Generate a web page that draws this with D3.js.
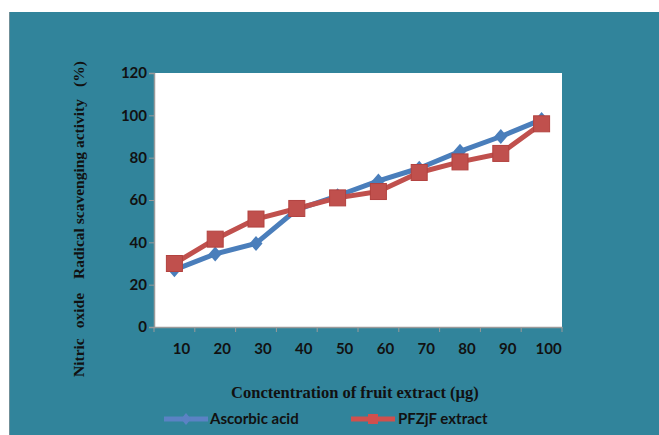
<!DOCTYPE html>
<html><head><meta charset="utf-8">
<script src="https://cdn.jsdelivr.net/npm/d3@7"></script>
<style>body{margin:0;background:#fff}svg{display:block}</style>
</head><body>
<svg id="c" width="659" height="435"></svg>
<script>
const categories = ["10","20","30","40","50","60","70","80","90","100"];
const ascorbic = [27, 34.5, 39.5, 55.5, 62, 69, 75, 83, 90, 98];
const pfzjf = [30, 41.5, 51, 56, 61, 64, 73, 78, 82, 96];
const yTicks = [0,20,40,60,80,100,120];
const seriesNames = ["Ascorbic acid","PFZjF extract"];

const svg = d3.select("#c");
const W = 659, H = 435;
const m = {left:154, right:562, top:73, bottom:327};

svg.append("rect").attr("x",9).attr("y",12).attr("width",W-9).attr("height",H-12).attr("fill","#31849B");
svg.append("rect").attr("x",9).attr("y",12).attr("width",1).attr("height",H-12).attr("fill","#6f8f98");
svg.append("rect").attr("x",m.left).attr("y",m.top).attr("width",m.right-m.left).attr("height",m.bottom-m.top).attr("fill","#fff");

const x = d3.scaleBand().domain(categories).range([m.left,m.right]).padding(0);
const y = d3.scaleLinear().domain([0,120]).range([m.bottom,m.top]);

const tickFont = "Lato, 'Open Sans', sans-serif";

// Y axis
const ya = svg.append("g").attr("transform",`translate(${m.left},0)`)
  .call(d3.axisLeft(y).tickValues(yTicks).tickSize(5).tickPadding(2).tickFormat(d3.format("d")));
ya.select(".domain").attr("stroke","#9a9a9a").attr("stroke-width",1.5);
ya.selectAll(".tick line").attr("stroke","#9a9a9a");
ya.selectAll("text").attr("font-family",tickFont).attr("font-weight","bold").attr("font-size",15).attr("fill","#111");

// X axis
const xa = svg.append("g").attr("transform",`translate(0,${m.bottom})`)
  .call(d3.axisBottom(x).tickSize(0).tickPadding(16));
xa.select(".domain").attr("stroke","#9a9a9a").attr("stroke-width",1.5);
xa.selectAll("text").attr("font-family",tickFont).attr("font-weight","bold").attr("font-size",15).attr("fill","#111").attr("dx",7);
const bounds = categories.map(c=>x(c)).concat([m.right]);
svg.append("g").selectAll("line").data(bounds).join("line")
  .attr("x1",d=>d).attr("x2",d=>d).attr("y1",m.bottom).attr("y2",m.bottom+5)
  .attr("stroke","#9a9a9a").attr("stroke-width",1);

const cx = c => x(c) + x.bandwidth()/2;
const line = d3.line().x((d,i)=>cx(categories[i])).y(d=>y(d));
const diamond = (w,h) => `M0,${-h}L${w},0L0,${h}L${-w},0Z`;

// Ascorbic
svg.append("path").datum(ascorbic).attr("d",line).attr("fill","none").attr("stroke","#4A7EBB").attr("stroke-width",5).attr("stroke-linejoin","round");
svg.append("g").selectAll("path").data(ascorbic).join("path")
  .attr("d",diamond(6.5,7.5)).attr("transform",(d,i)=>`translate(${cx(categories[i])},${y(d)})`)
  .attr("fill","#4A7EBB");

// PFZjF
svg.append("path").datum(pfzjf).attr("d",line).attr("fill","none").attr("stroke","#C0504D").attr("stroke-width",5).attr("stroke-linejoin","round");
svg.append("g").selectAll("rect").data(pfzjf).join("rect")
  .attr("x",(d,i)=>cx(categories[i])-8).attr("y",d=>y(d)-8)
  .attr("width",16).attr("height",16).attr("fill","#C0504D").attr("stroke","#b2423f").attr("stroke-width",1);

// X title
svg.append("text").attr("x",355).attr("y",398).attr("text-anchor","middle")
  .attr("font-family","'Liberation Serif', 'Times New Roman', serif").attr("font-weight","bold").attr("font-size",16.5).attr("fill","#111")
  .text("Conctentration of fruit extract (µg)");

// Y title
const yt = svg.append("text").attr("transform","translate(84,377) rotate(-90)")
  .attr("font-family","'Liberation Serif', 'Times New Roman', serif").attr("font-weight","bold").attr("font-size",15.5).attr("fill","#111");
yt.append("tspan").text("Nitric");
yt.append("tspan").attr("dx",10).text("oxide");
yt.append("tspan").attr("dx",14).text("Radical scavenging activity");
yt.append("tspan").attr("dx",12).text("(%)");

// Legend
const lg = svg.append("g");
lg.append("line").attr("x1",164).attr("x2",208).attr("y1",419).attr("y2",419).attr("stroke","#5b82c4").attr("stroke-width",5);
lg.append("path").attr("d",diamond(5,6)).attr("transform","translate(186,419)").attr("fill","#5b82c4");
lg.append("text").attr("x",210).attr("y",424).attr("font-family",tickFont).attr("font-weight","bold").attr("font-size",15).attr("fill","#111").text(seriesNames[0]);
lg.append("line").attr("x1",351).attr("x2",395).attr("y1",419).attr("y2",419).attr("stroke","#d0504d").attr("stroke-width",5);
lg.append("rect").attr("x",368).attr("y",414).attr("width",10).attr("height",10).attr("fill","#d0504d");
lg.append("text").attr("x",398).attr("y",424).attr("font-family",tickFont).attr("font-weight","bold").attr("font-size",15).attr("fill","#111").text(seriesNames[1]);
</script>
</body></html>
